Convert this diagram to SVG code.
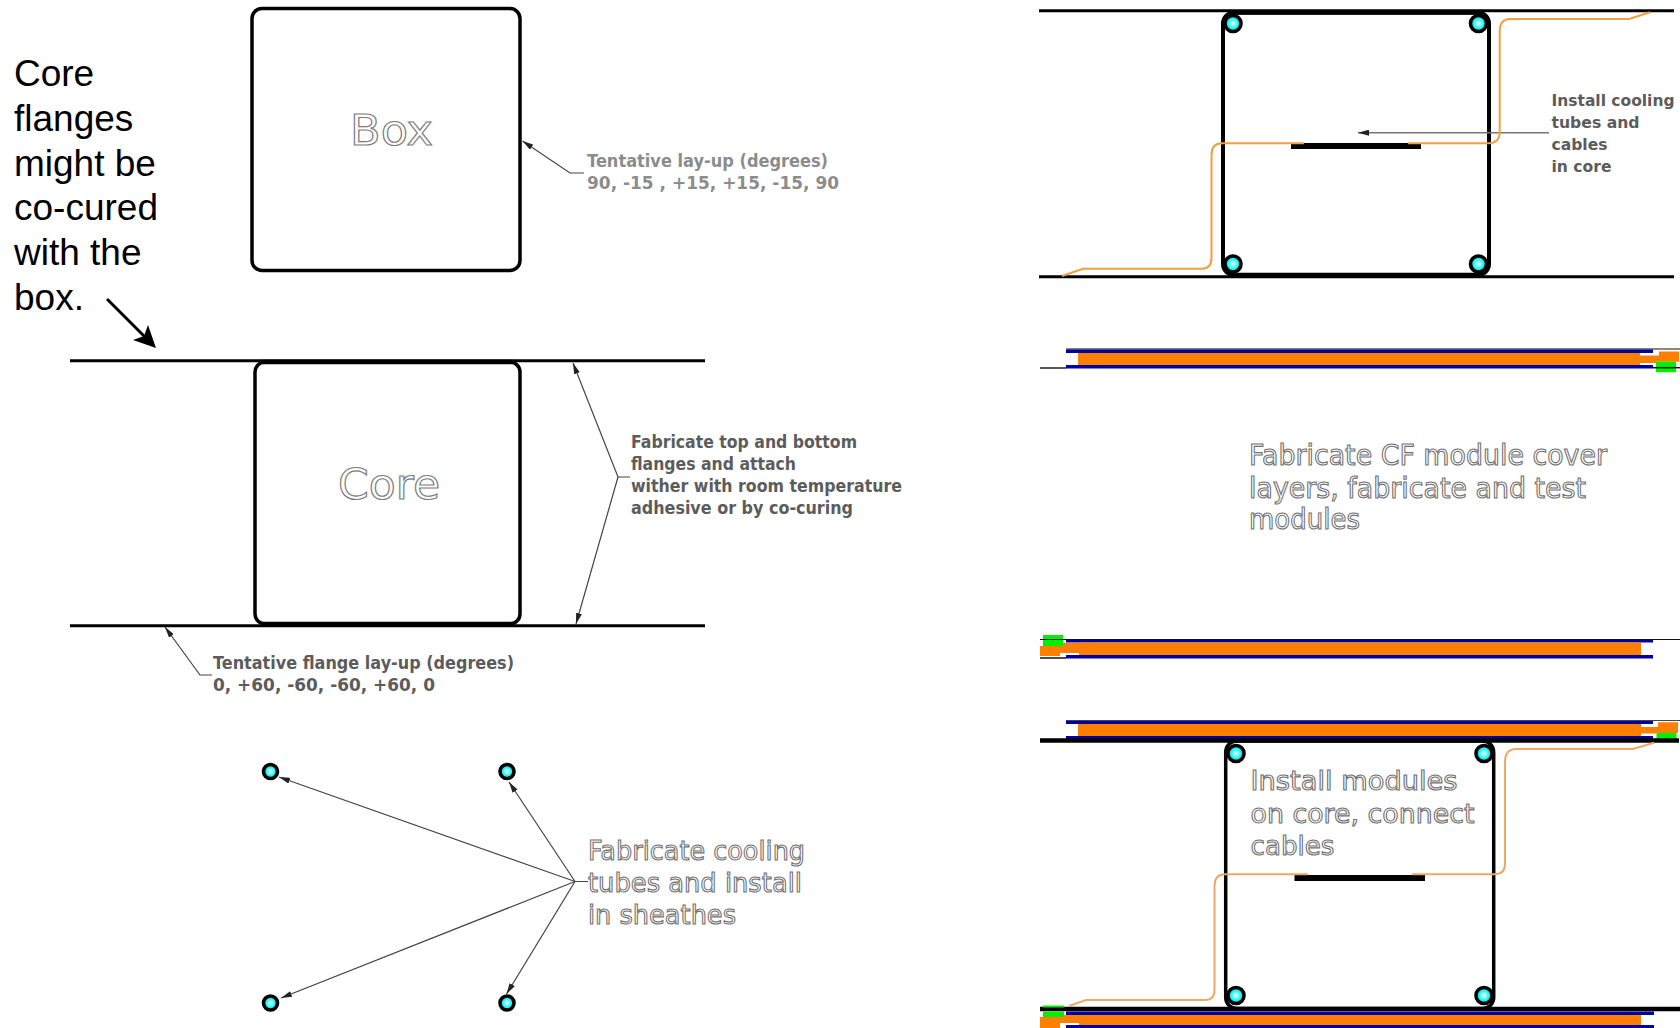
<svg xmlns="http://www.w3.org/2000/svg" width="1680" height="1028" viewBox="0 0 1680 1028">
<style>
.sans{font-family:"Liberation Sans",Arial,sans-serif;font-size:37px;fill:#000}
.out{font-family:"DejaVu Sans",Verdana,sans-serif;fill:#fff;stroke:#7c7c7c;stroke-width:1.2px}
.big{font-size:43px}
.mid{font-size:27px;stroke-width:1.1px;stroke:#707070}
.wide{font-size:28px}
.note{font-family:"DejaVu Sans",Verdana,sans-serif;font-size:17px;font-weight:bold;fill:#5c5c5c}
.small{font-size:15.5px}
.pale{fill:#8c8c8c}
.frame{fill:none;stroke:#000;stroke-width:3.5}
.flat{fill:none;stroke:#000;stroke-width:3}
.heavy{fill:none;stroke:#000;stroke-width:4.5}
.lead{fill:none;stroke:#444;stroke-width:1.2}
.cable{fill:none;stroke:#f0a040;stroke-width:2}
.tube{fill:url(#cy);stroke:#000;stroke-width:3.6}
.or{fill:#ff7f00}.bl{fill:#0000a8}.gr{fill:#00f000}.wh{fill:#fff}.bk{fill:#000}
</style>
<defs>
<radialGradient id="cy"><stop offset="0" stop-color="#f0ffff"/><stop offset="0.6" stop-color="#20f4f4"/><stop offset="1" stop-color="#10d8d8"/></radialGradient>
<marker id="tip" markerUnits="userSpaceOnUse" markerWidth="11" markerHeight="6" refX="11" refY="3" orient="auto"><path d="M0 0L11 3L0 6Z" fill="#222"/></marker>
</defs>
<rect width="1680" height="1028" fill="#fff"/>
<g id="note-flanges">
<text class="sans" x="14" y="86">Core</text>
<text class="sans" x="14" y="131">flanges</text>
<text class="sans" x="14" y="176">might be</text>
<text class="sans" x="14" y="220">co-cured</text>
<text class="sans" x="14" y="265">with the</text>
<text class="sans" x="14" y="310">box.</text>
</g>
<g id="box">
<rect class="frame" x="252" y="8.500" width="268" height="262" rx="10"/>
<text class="out big" x="350" y="145" textLength="83" lengthAdjust="spacingAndGlyphs">Box</text>
</g>
<g id="layup-note">
<text class="note pale" x="587" y="167" textLength="241" lengthAdjust="spacingAndGlyphs">Tentative lay-up (degrees)</text>
<text class="note pale" x="587" y="189" textLength="252" lengthAdjust="spacingAndGlyphs">90, -15 , +15, +15, -15, 90</text>
</g>
<g id="core">
<line class="flat" x1="70" y1="360.700" x2="705" y2="360.700"/>
<line class="flat" x1="70" y1="625.700" x2="705" y2="625.700"/>
<rect class="frame" x="255" y="362" width="265" height="262" rx="10"/>
<line class="heavy" x1="262" y1="362" x2="513" y2="362"/>
<line class="heavy" x1="262" y1="624" x2="513" y2="624"/>
<text class="out big" x="338" y="499" textLength="102" lengthAdjust="spacingAndGlyphs">Core</text>
</g>
<g id="flange-note">
<text class="note" x="631" y="448" textLength="226" lengthAdjust="spacingAndGlyphs">Fabricate top and bottom</text>
<text class="note" x="631" y="470" textLength="165" lengthAdjust="spacingAndGlyphs">flanges and attach</text>
<text class="note" x="631" y="492" textLength="271" lengthAdjust="spacingAndGlyphs">wither with room temperature</text>
<text class="note" x="631" y="514" textLength="222" lengthAdjust="spacingAndGlyphs">adhesive or by co-curing</text>
</g>
<g id="flange-layup-note">
<text class="note" x="213" y="669" textLength="301" lengthAdjust="spacingAndGlyphs">Tentative flange lay-up (degrees)</text>
<text class="note" x="213" y="691" textLength="222" lengthAdjust="spacingAndGlyphs">0, +60, -60, -60, +60, 0</text>
</g>
<g id="loose-tubes">
<circle class="tube" cx="270.500" cy="771.500" r="7"/>
<circle class="tube" cx="507" cy="771.500" r="7"/>
<circle class="tube" cx="270.500" cy="1003" r="7"/>
<circle class="tube" cx="507" cy="1003" r="7"/>
</g>
<g id="tube-note">
<text class="out mid" x="588" y="860" textLength="217" lengthAdjust="spacingAndGlyphs">Fabricate cooling</text>
<text class="out mid" x="588" y="892" textLength="214" lengthAdjust="spacingAndGlyphs">tubes and install</text>
<text class="out mid" x="588" y="924" textLength="148" lengthAdjust="spacingAndGlyphs">in sheathes</text>
</g>
<g id="installed-core">
<line class="flat" x1="1039" y1="10.700" x2="1674" y2="10.700"/>
<line class="flat" x1="1039" y1="276.700" x2="1674" y2="276.700"/>
<rect class="frame" x="1223" y="12.500" width="266" height="262.500" rx="11" style="stroke-width:4"/>
<line class="heavy" x1="1232" y1="12.500" x2="1480" y2="12.500"/>
<line class="heavy" x1="1232" y1="275" x2="1480" y2="275"/>
<rect class="bk" x="1291" y="143" width="130" height="6"/>
<circle class="tube" cx="1233" cy="23.500" r="8"/>
<circle class="tube" cx="1478.500" cy="23.500" r="8"/>
<circle class="tube" cx="1233" cy="264" r="8"/>
<circle class="tube" cx="1478.500" cy="264" r="8"/>
</g>
<g id="install-note">
<text class="note small" x="1551.500" y="106" textLength="123" lengthAdjust="spacingAndGlyphs">Install cooling</text>
<text class="note small" x="1551.500" y="127.500" textLength="88" lengthAdjust="spacingAndGlyphs">tubes and</text>
<text class="note small" x="1551.500" y="149.500" textLength="56" lengthAdjust="spacingAndGlyphs">cables</text>
<text class="note small" x="1551.500" y="171.500" textLength="60" lengthAdjust="spacingAndGlyphs">in core</text>
</g>
<g id="module-top">
<line x1="1040" y1="368" x2="1066" y2="368" stroke="#222" stroke-width="1.500"/>
<rect class="bl" x="1066" y="349.500" width="587" height="3.500"/>
<rect class="bl" x="1066" y="365" width="587" height="3.500"/>
<rect class="or" x="1078" y="353" width="562" height="12"/>
<path class="or" d="M1640 355.500H1659V351.500H1679V361.700H1656V363H1640Z"/>
<rect class="gr" x="1656" y="361.700" width="20" height="10.500"/>
<line x1="1066" y1="349" x2="1680" y2="349" stroke="#111" stroke-width="1.200"/>
<line x1="1653" y1="367.700" x2="1680" y2="367.700" stroke="#111" stroke-width="1.500"/>
</g>
<g id="module-note">
<text class="out mid wide" x="1249" y="465" textLength="358" lengthAdjust="spacingAndGlyphs">Fabricate CF module cover</text>
<text class="out mid wide" x="1249" y="498" textLength="337" lengthAdjust="spacingAndGlyphs">layers, fabricate and test</text>
<text class="out mid wide" x="1249" y="529" textLength="111" lengthAdjust="spacingAndGlyphs">modules</text>
</g>
<g id="module-bottom">
<rect class="bl" x="1066" y="639" width="587" height="3.500"/>
<rect class="bl" x="1066" y="655" width="587" height="3.500"/>
<rect class="or" x="1079" y="642.500" width="562" height="12.500"/>
<path class="or" d="M1040 646H1063V643H1079V653H1060V656H1040Z"/>
<rect class="gr" x="1043" y="635" width="20" height="11"/>
<line x1="1040" y1="639.500" x2="1680" y2="639.500" stroke="#111" stroke-width="1.200"/>
<line x1="1040" y1="658" x2="1066" y2="658" stroke="#111" stroke-width="1.500"/>
</g>
<g id="assembled-top-module">
<rect class="bl" x="1066" y="721" width="587" height="3"/>
<rect class="bl" x="1066" y="736" width="587" height="3"/>
<rect class="or" x="1078" y="724" width="563" height="12"/>
<path class="or" d="M1641 727H1658V722.300H1678V733H1656V733.500H1641Z"/>
<rect class="gr" x="1656.500" y="733" width="20" height="6"/>
<line x1="1066" y1="720.500" x2="1680" y2="720.500" stroke="#444" stroke-width="1"/>
</g>
<g id="assembled-core">
<line class="heavy" x1="1040" y1="740.500" x2="1679" y2="740.500"/>
<line class="heavy" x1="1040" y1="1009" x2="1680" y2="1009"/>
<rect class="frame" x="1225.700" y="741" width="268" height="267.500" rx="11" style="stroke-width:3.500"/>
<rect class="bk" x="1294.500" y="875" width="130.500" height="6"/>
<circle class="tube" cx="1236" cy="753.500" r="8"/>
<circle class="tube" cx="1484" cy="753.500" r="8"/>
<circle class="tube" cx="1236" cy="995.500" r="8"/>
<circle class="tube" cx="1484" cy="995.500" r="8"/>
<text class="out mid" x="1250.500" y="790" textLength="207" lengthAdjust="spacingAndGlyphs">Install modules</text>
<text class="out mid" x="1250.500" y="823" textLength="224" lengthAdjust="spacingAndGlyphs">on core, connect</text>
<text class="out mid" x="1250.500" y="855" textLength="84" lengthAdjust="spacingAndGlyphs">cables</text>
</g>
<g id="assembled-bottom-module">
<rect class="bl" x="1066" y="1011.500" width="588" height="3.500"/>
<rect class="bl" x="1066" y="1025" width="588" height="3"/>
<rect class="or" x="1079" y="1015" width="562" height="10"/>
<path class="or" d="M1040 1017H1064V1015H1079V1023H1060V1028H1040Z"/>
<rect class="gr" x="1043" y="1011.500" width="21" height="5.500"/>
<rect class="gr" x="1043" y="1005.500" width="21" height="2"/>
</g>
<g id="connectors">
<path d="M107 299L150 342" fill="none" stroke="#000" stroke-width="3"/>
<path class="bk" d="M156 348L133 340L144 336L148 325Z"/>
<path class="lead" d="M584 173H570L522.500 141" marker-end="url(#tip)"/>
<path class="lead" d="M630 477H618L573 363" marker-end="url(#tip)"/>
<path class="lead" d="M618 477L576 624" marker-end="url(#tip)"/>
<path class="lead" d="M212 675H200L165 627" marker-end="url(#tip)"/>
<path class="lead" d="M588 881.500H575L279 777" marker-end="url(#tip)"/>
<path class="lead" d="M575 881.500L509 782" marker-end="url(#tip)"/>
<path class="lead" d="M575 881.500L281 998" marker-end="url(#tip)"/>
<path class="lead" d="M575 881.500L506.500 994" marker-end="url(#tip)"/>
<path d="M1549 132.700H1358" fill="none" stroke="#777" stroke-width="1.600" marker-end="url(#tip)"/>
<path class="cable" d="M1062 276L1083 268.700H1202Q1211.500 268.700 1211.500 258V155Q1211.500 143.300 1222 143.300H1304"/>
<path class="cable" d="M1408 143.300H1488Q1499.700 143.300 1499.700 132V32Q1499.700 19 1510 19H1629L1650 12.300"/>
<path class="cable" style="stroke:#f0a868" d="M1069 1006L1086 1000H1205Q1214.500 1000 1214.500 990V886Q1214.500 874.300 1225 874.300H1308"/>
<path class="cable" style="stroke:#f0a868" d="M1412 874.300H1494Q1505 874.300 1505 864V762Q1505 749 1516 749H1633L1654 742.700"/>
</g>
</svg>
